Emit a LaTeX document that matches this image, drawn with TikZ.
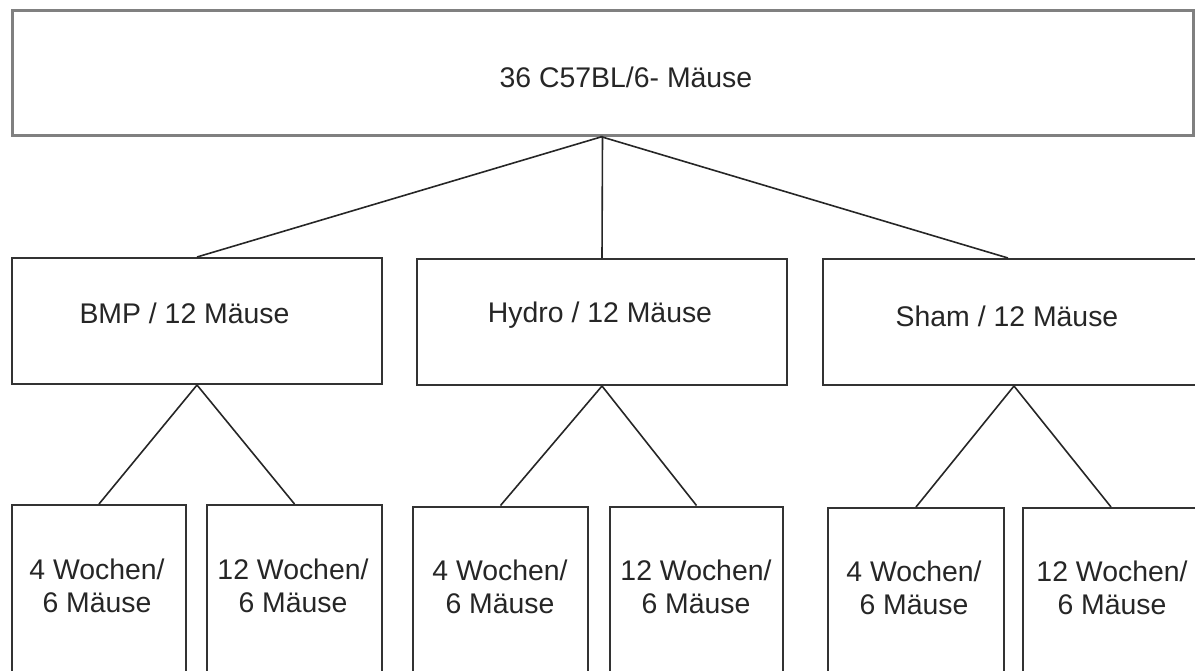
\documentclass[tikz,border=0pt]{standalone}
\usepackage{fontspec}
\setmainfont{Liberation Sans}
\begin{document}
\begin{tikzpicture}[x=0.5pt,y=-0.5pt,
  box/.style={draw=black!80,line width=1pt,inner sep=0pt,fill=white},
  topbox/.style={draw=black!50,line width=1.5pt,inner sep=0pt,fill=white},
  txt/.style={inner sep=0pt,align=center,font=\fontsize{14.2pt}{16.5pt}\selectfont,text=black!85},
  conn/.style={draw=black!85,line width=0.8pt}]
\useasboundingbox (0,0) rectangle (1195,670);
\clip (0,0) rectangle (1195,670);
% boxes
\node[topbox,minimum width=590.5pt,minimum height=62.5pt] (top) at (602.5,72.5) {};
\node[box,minimum width=185pt,minimum height=63pt] (bmp) at (197,321) {};
\node[box,minimum width=185pt,minimum height=63pt] (hyd) at (602,322) {};
\node[box,minimum width=187pt,minimum height=63pt] (sham) at (1010,322) {};
\node[box,minimum width=87pt,minimum height=107.5pt] (bmpa) at (99,612.5) {};
\node[box,minimum width=87.5pt,minimum height=107.5pt] (bmpb) at (294.5,612.5) {};
\node[box,minimum width=87.5pt,minimum height=107pt] (hyda) at (500.5,613.5) {};
\node[box,minimum width=86.5pt,minimum height=107pt] (hydb) at (696.5,613.5) {};
\node[box,minimum width=88pt,minimum height=106.5pt] (shama) at (916,614.5) {};
\node[box,minimum width=88pt,minimum height=106.5pt] (shamb) at (1111,614.5) {};
% connectors
\draw[conn] (top.south) -- (bmp.north);
\draw[conn] (top.south) -- (hyd.north);
\draw[conn] ([xshift=-1pt]top.south) -- ([xshift=-1pt]sham.north);
\draw[conn] (bmp.south) -- (bmpa.north);
\draw[conn] (bmp.south) -- (bmpb.north);
\draw[conn] (hyd.south) -- (hyda.north);
\draw[conn] (hyd.south) -- (hydb.north);
\draw[conn] ([xshift=2pt]sham.south) -- (shama.north);
\draw[conn] ([xshift=2pt]sham.south) -- (shamb.north);
% texts
\node[txt] (ttop) at (626,77) {36 C57BL/6- Mäuse};
\node[txt] (tbmp) at (184.5,313) {BMP / 12 Mäuse};
\node[txt] (thyd) at (600,315) {Hydro / 12 Mäuse};
\node[txt] (tsham) at (1007,316) {Sham / 12 Mäuse};
\node[txt] (tbmpa) at (97,586) {4 Wochen/\\6 Mäuse};
\node[txt] (tbmpb) at (293,586) {12 Wochen/\\6 Mäuse};
\node[txt] (thyda) at (500,587) {4 Wochen/\\6 Mäuse};
\node[txt] (thydb) at (696,587) {12 Wochen/\\6 Mäuse};
\node[txt] (tshama) at (914,588) {4 Wochen/\\6 Mäuse};
\node[txt] (tshamb) at (1112,588) {12 Wochen/\\6 Mäuse};
\end{tikzpicture}
\end{document}
